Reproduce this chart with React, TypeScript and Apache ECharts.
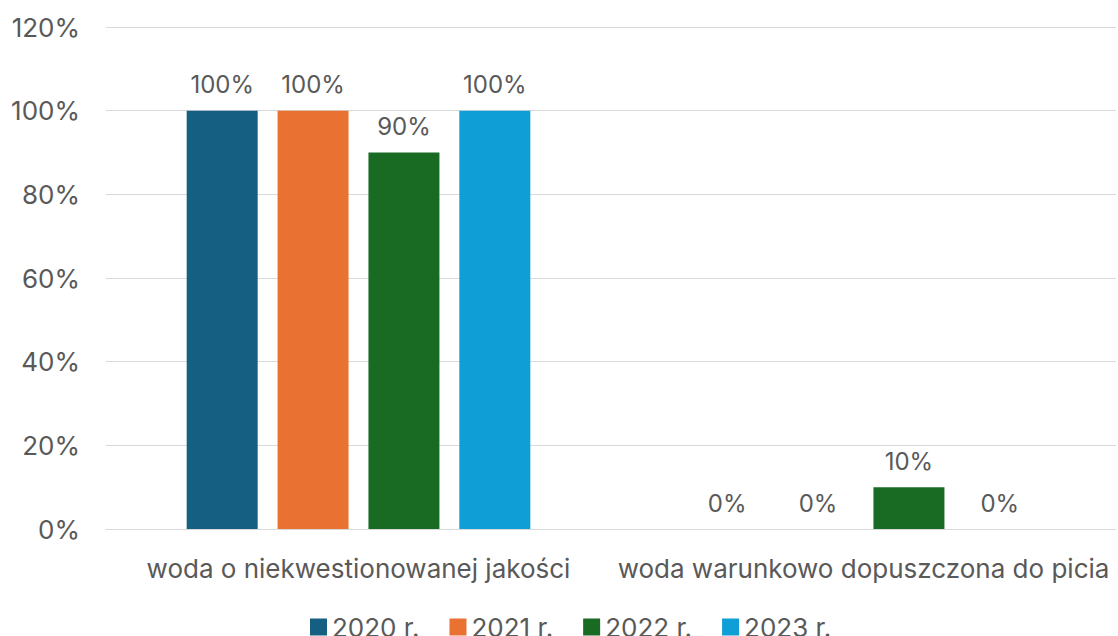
import React, { useEffect, useRef } from "react";
import * as echarts from "echarts";

const categories = ["woda o niekwestionowanej jakości", "woda warunkowo dopuszczona do picia"];
const seriesNames = ["2020 r.", "2021 r.", "2022 r.", "2023 r."];
const values2020 = [100, 0];
const values2021 = [100, 0];
const values2022 = [90, 10];
const values2023 = [100, 0];
const colors = ["#156082", "#E97132", "#196B24", "#0F9ED5"];

export default function App() {
  const ref = useRef<HTMLDivElement>(null);
  useEffect(() => {
    document.body.style.margin = "0";
    if (!ref.current) return;
    const chart = echarts.init(ref.current, null, { renderer: "svg" });
    const font = "Inter, 'Noto Sans', sans-serif";
    const all = [values2020, values2021, values2022, values2023];
    chart.setOption({
      animation: false,
      textStyle: { fontFamily: font },
      color: colors,
      grid: { left: 106, right: 2, top: 27, bottom: 107, containLabel: false },
      legend: {
        top: 614,
        left: 310,
        padding: 0,
        itemWidth: 17,
        itemHeight: 17,
        itemGap: 30,
        icon: "rect",
        textStyle: { fontSize: 26, color: "#595959", fontFamily: font },
        data: seriesNames,
      },
      xAxis: {
        type: "category",
        data: categories,
        axisLine: { lineStyle: { color: "#d9d9d9" } },
        axisTick: { show: false },
        axisLabel: { fontSize: 26, color: "#595959", margin: 26, interval: 0, fontFamily: font },
      },
      yAxis: {
        type: "value",
        min: 0,
        max: 120,
        interval: 20,
        axisLabel: { formatter: "{value}%", fontSize: 26, color: "#595959", margin: 26, fontFamily: font },
        splitLine: { lineStyle: { color: "#d9d9d9" } },
        axisLine: { show: false },
        axisTick: { show: false },
      },
      series: seriesNames.map((name, i) => ({
        name,
        type: "bar",
        data: all[i],
        barWidth: 71,
        barGap: "28%",
        barCategoryGap: "32%",
        itemStyle: { color: colors[i] },
        label: {
          show: true,
          position: "top",
          distance: 14,
          formatter: "{c}%",
          fontSize: 24,
          color: "#595959",
          fontFamily: font,
        },
      })),
    });
    return () => chart.dispose();
  }, []);
  return <div ref={ref} style={{ width: 1118, height: 636 }} />;
}
